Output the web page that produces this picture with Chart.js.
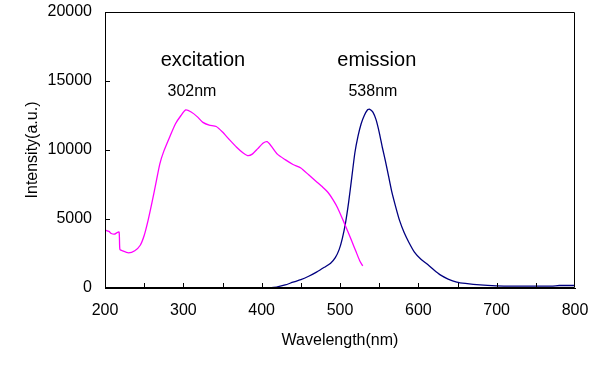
<!DOCTYPE html>
<html>
<head>
    <title>Excitation / Emission</title>
    <script src="https://cdn.jsdelivr.net/npm/chart.js"></script>
    <style>
        body { margin: 0; background: #fff; }
        #wrap { width: 600px; height: 370px; }
    </style>
</head>
<body>
    <div id="wrap">
        <canvas id="myChart" width="600" height="370"></canvas>
    </div>
    <script>
        // excitation spectrum (magenta)
        const exWavelength = [200, 205, 208, 212, 215, 218, 219, 222, 230, 238, 245, 250, 255, 260, 265, 270, 275, 283, 290, 297, 303, 310, 318, 325, 333, 342, 350, 358, 368, 376, 382, 388, 395, 402, 407, 412, 420, 430, 440, 450, 460, 470, 478, 485, 491, 497, 504, 510, 515, 520, 525, 529];
        const exIntensity  = [4200, 4100, 3950, 3900, 4000, 4050, 2800, 2700, 2550, 2700, 3100, 3800, 4900, 6200, 7600, 9000, 9900, 11000, 11900, 12500, 12900, 12750, 12400, 12000, 11800, 11700, 11300, 10800, 10200, 9800, 9600, 9700, 10100, 10500, 10600, 10300, 9700, 9300, 8950, 8700, 8200, 7700, 7300, 6900, 6400, 5800, 4900, 4100, 3400, 2700, 2000, 1600];

        // emission spectrum (navy)
        const emWavelength = [410, 420, 430, 440, 450, 460, 470, 480, 488, 494, 499, 503, 507, 511, 515, 519, 523, 527, 531, 535, 538, 542, 546, 550, 554, 558, 562, 566, 571, 576, 582, 588, 595, 603, 612, 620, 628, 638, 649, 660, 679, 700, 720, 770, 780, 800];
        const emIntensity  = [0, 80, 220, 420, 600, 850, 1150, 1500, 1800, 2200, 2800, 3600, 4700, 6200, 8000, 9800, 11000, 11900, 12500, 12900, 12950, 12750, 12200, 11300, 10200, 9200, 8100, 7000, 5900, 4900, 4000, 3300, 2600, 2100, 1700, 1300, 950, 650, 430, 330, 220, 160, 140, 140, 180, 180];

        const yTicks = [0, 5000, 10000, 15000, 20000];
        const xTicks = [200, 300, 400, 500, 600, 700, 800];

        // text labels: [text, wavelength, intensity, size]
        const labels = [
            ['excitation', 325, 16500, 20],
            ['302nm', 311, 14200, 16],
            ['emission', 547, 16500, 20],
            ['538nm', 542, 14200, 16]
        ];

        const FONT = '"Liberation Sans", Arial, sans-serif';
        const toPoints = (xs, ys) => xs.map((x, i) => ({ x: x, y: ys[i] }));

        // inward ticks, frame and text labels
        const extras = {
            id: 'extras',
            afterDraw(chart) {
                const ctx = chart.ctx;
                const xs = chart.scales.x, ys = chart.scales.y;
                const a = chart.chartArea;
                ctx.save();
                ctx.strokeStyle = '#000';
                ctx.lineWidth = 1;
                ctx.beginPath();
                ctx.rect(a.left + 0.5, a.top + 0.5, a.right - a.left - 1, a.bottom - a.top - 1);
                for (let v = 250; v < 800; v += 50) {
                    const px = Math.round(xs.getPixelForValue(v)) + 0.5;
                    ctx.moveTo(px, a.bottom);
                    ctx.lineTo(px, a.bottom - 5);
                }
                yTicks.slice(1, -1).forEach(v => {
                    const py = Math.round(ys.getPixelForValue(v)) + 0.5;
                    ctx.moveTo(a.left, py);
                    ctx.lineTo(a.left + 5, py);
                });
                ctx.stroke();
                ctx.fillStyle = '#000';
                ctx.textAlign = 'center';
                ctx.textBaseline = 'middle';
                labels.forEach(l => {
                    ctx.font = l[3] + 'px ' + FONT;
                    ctx.fillText(l[0], xs.getPixelForValue(l[1]), ys.getPixelForValue(l[2]));
                });
                ctx.restore();
            }
        };

        const ctx = document.getElementById('myChart').getContext('2d');
        const myChart = new Chart(ctx, {
            type: 'scatter',
            data: {
                datasets: [{
                    label: 'excitation',
                    data: toPoints(exWavelength, exIntensity),
                    showLine: true,
                    borderColor: '#ff00ff',
                    borderWidth: 1.3,
                    pointRadius: 0,
                    tension: 0.2
                }, {
                    label: 'emission',
                    data: toPoints(emWavelength, emIntensity),
                    showLine: true,
                    borderColor: '#000080',
                    borderWidth: 1.3,
                    pointRadius: 0,
                    tension: 0.2
                }]
            },
            options: {
                responsive: false,
                animation: false,
                layout: { padding: { left: 23, right: 25, top: 12, bottom: 20 } },
                plugins: {
                    legend: { display: false },
                    tooltip: { enabled: false }
                },
                scales: {
                    x: {
                        type: 'linear',
                        min: 200, max: 800,
                        afterBuildTicks: s => { s.ticks = xTicks.map(v => ({ value: v })); },
                        afterFit: s => { s.height = 62; s.paddingLeft = 0; s.paddingRight = 0; },
                        grid: { display: false, drawTicks: false },
                        border: { display: true, color: '#000', width: 1 },
                        ticks: {
                            color: '#000',
                            padding: 13,
                            maxRotation: 0,
                            font: { family: FONT, size: 16 },
                            callback: v => String(v)
                        },
                        title: {
                            display: true,
                            text: 'Wavelength(nm)',
                            color: '#000',
                            padding: { top: 0, bottom: 0 },
                            font: { family: FONT, size: 16 }
                        }
                    },
                    y: {
                        min: 0, max: 20000,
                        afterBuildTicks: s => { s.ticks = yTicks.map(v => ({ value: v })); },
                        afterFit: s => { s.width = 82; s.paddingTop = 0; s.paddingBottom = 0; },
                        grid: { display: false, drawTicks: false },
                        border: { display: true, color: '#000', width: 1 },
                        ticks: {
                            color: '#000',
                            padding: 13,
                            font: { family: FONT, size: 16 },
                            callback: v => String(v)
                        },
                        title: {
                            display: true,
                            text: 'Intensity(a.u.)',
                            color: '#000',
                            padding: { top: 0, bottom: 0 },
                            font: { family: FONT, size: 16 }
                        }
                    }
                }
            },
            plugins: [extras]
        });
    </script>
</body>
</html>
